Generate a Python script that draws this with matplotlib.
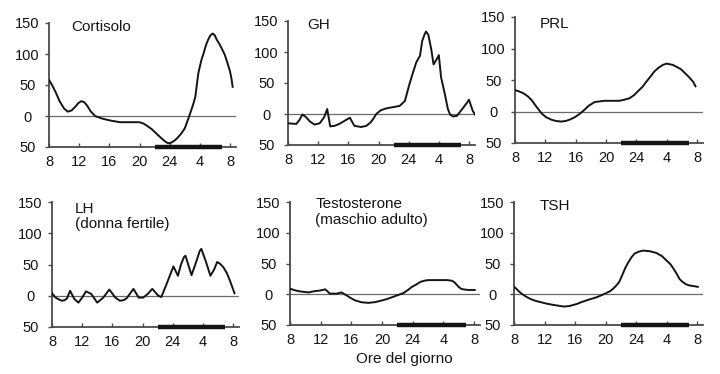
import matplotlib
matplotlib.use('Agg')
import matplotlib.pyplot as plt

plt.rcParams['font.family'] = ['Liberation Sans', 'DejaVu Sans']

# hours run 8..32 (32 = 8 of the following morning)
hour_ticks = [8, 12, 16, 20, 24, 28, 32]
hour_labels = ['8', '12', '16', '20', '24', '4', '8']
level_ticks = [-50, 0, 50, 100, 150]
level_labels = ['50', '0', '50', '100', '150']
sleep = (22, 31)

cort_h = [8, 8.4, 8.9, 9.4, 10, 10.5, 11, 11.5, 11.9, 12.3, 12.7, 13.1, 13.5, 14.1, 15, 16,
          17.4, 20, 20.5, 20.9, 21.6, 22.3, 23, 23.5, 23.8, 24.2, 24.6, 24.9, 25.5, 26,
          26.6, 27.1, 27.4, 27.8, 28.2, 28.5, 28.8, 29.1, 29.4, 29.7, 30, 30.2, 30.6, 30.9,
          31.3, 31.6, 32, 32.2, 32.35]
cort_v = [58, 50, 38, 24, 12, 7, 9, 15, 21, 24, 22, 16, 8, 0, -4, -7,
          -10, -10, -12, -15, -21, -29, -37, -42, -44, -43, -40, -37, -29, -20,
          0, 18, 31, 69, 90, 101, 114, 123, 130, 133, 130, 124, 116, 109,
          99, 88, 72, 60, 47]

gh_h = [8, 9.1, 9.5, 9.9, 10.3, 10.9, 11.5, 12.2, 12.8, 13.2, 13.6, 14.2, 14.8, 15.5, 16.2,
        16.8, 17.7, 18.4, 19, 19.4, 19.7, 20.3, 21, 21.9, 22.8, 23.5, 24.1, 24.6, 25, 25.5,
        25.8, 26.1, 26.3, 26.6, 27, 27.3, 27.7, 28, 28.3, 28.8, 29.2, 29.5, 29.9, 30.4,
        31.1, 31.6, 32, 32.5, 32.9]
gh_v = [-15, -16, -10, -1, -4, -12, -17, -15, -5, 8, -20, -19, -16, -11, -6,
        -19, -21, -19, -13, -6, 0, 6, 9, 11, 13, 21, 48, 68, 83, 94,
        118, 128, 133, 128, 104, 80, 88, 95, 59, 32, 8, -1, -4, -3,
        8, 16, 23, 5, -3]

prl_h = [8, 8.5, 9.1, 9.7, 10.2, 10.8, 11.5, 12.1, 12.8, 13.4, 14.1, 14.7, 15.2, 15.9, 16.5,
         17.1, 17.7, 18.5, 19.8, 21.8, 22.5, 23.1, 23.7, 24.2, 24.8, 25.3, 25.9, 26.4, 27,
         27.5, 28, 28.4, 28.8, 29.3, 29.9, 30.4, 31, 31.5, 31.8]
prl_v = [34, 32, 29, 24, 18, 8, -3, -9, -13, -15, -16, -15, -13, -9, -4,
         2, 9, 15, 17, 17, 19, 21, 26, 32, 39, 47, 56, 64, 70,
         74, 76, 75, 74, 71, 67, 61, 54, 47, 40]

lh_h = [8, 8.4, 8.75, 9.3, 9.7, 10, 10.4, 10.95, 11.5, 12, 12.5, 13.2, 14, 14.8, 15.6,
        16.4, 17, 17.5, 17.9, 18.8, 19.5, 20.1, 20.7, 21.3, 22.1, 22.5, 23.2, 24.1, 24.7,
        25.1, 25.5, 25.7, 26.5, 27, 27.6, 27.8, 28.4, 29, 29.5, 29.9, 30.3, 30.7, 31.2,
        31.6, 32.2]
lh_v = [4, -2, -5, -8, -7, -4, 8, -5, -11, -3, 7, 3, -11, -3, 10,
        -3, -8, -7, -4, 11, -3, -3, 3, 11, 0, -2, 19, 47, 32,
        50, 62, 64, 33, 50, 72, 75, 55, 32, 42, 54, 51, 46, 36,
        24, 4]

test_h = [8, 8.5, 9.1, 10.4, 11.2, 11.9, 12.6, 13.2, 14.1, 14.7, 15.4, 15.9, 16.5, 17.3,
          18.2, 19, 19.7, 20.6, 21.5, 22.8, 23.4, 23.9, 24.5, 25, 25.5, 26, 27.6, 28.5,
          29.1, 29.4, 29.7, 30, 30.3, 30.6, 31.2, 32.1]
test_v = [9, 7, 5, 3, 5, 6, 8, 1, 1, 3, -2, -6, -10, -13,
          -14, -13, -11, -8, -4, 2, 7, 12, 16, 20, 22, 23, 23, 23,
          22, 20, 16, 12, 9, 8, 7, 7]

tsh_h = [8, 8.3, 8.7, 9.1, 9.6, 10.2, 10.9, 12.2, 13, 14, 14.6, 15.3, 16.2, 16.8, 17.5,
         18.8, 19.4, 20.1, 20.6, 21, 21.4, 21.8, 22.3, 22.6, 23, 23.4, 23.8, 24.3, 24.9,
         25.8, 26.7, 27.4, 28, 28.5, 28.9, 29.3, 29.7, 30.1, 30.6, 31.1, 31.7, 32.1]
tsh_v = [12, 9, 4, 0, -4, -8, -11, -15, -17, -19, -20, -19, -16, -13, -10,
         -5, -2, 2, 5, 9, 14, 20, 34, 43, 52, 60, 66, 69, 71,
         70, 67, 62, 55, 49, 42, 34, 25, 20, 16, 14, 13, 12]

# (pixel x of hour 8, pixel x of hour 32, pixel y of 150, pixel y of -50)
panels = [
    ((49, 230, 23, 147), cort_h, cort_v, [('Cortisolo', 10.9, 143)]),
    ((288, 469, 21, 145), gh_h, gh_v, [('GH', 10.5, 143)]),
    ((515, 697, 17, 143), prl_h, prl_v, [('PRL', 11.2, 139)]),
    ((52, 233, 202, 327), lh_h, lh_v, [('LH', 11.05, 139), ('(donna fertile)', 11.05, 115)]),
    ((290, 474, 202, 325), test_h, test_v, [('Testosterone', 11.3, 147), ('(maschio adulto)', 11.3, 120)]),
    ((514, 697, 202, 325), tsh_h, tsh_v, [('TSH', 11.4, 144)]),
]

W, H = 720, 374
fig = plt.figure(figsize=(W / 100, H / 100), dpi=100)
ink = '#141414'
axis_col = '#4a4a4a'
xmax = 32.8

for (xa, xb, ya, yb), hh, vv, labels in panels:
    pxh = (xb - xa) / 24
    ax = fig.add_axes([xa / W, 1 - yb / H, pxh * (xmax - 8) / W, (yb - ya) / H])
    ax.set_xlim(8, xmax)
    ax.set_ylim(-50, 150)
    ax.patch.set_alpha(0)
    for s in ('top', 'right'):
        ax.spines[s].set_visible(False)
    for s in ('left', 'bottom'):
        ax.spines[s].set_linewidth(1.3)
        ax.spines[s].set_color(axis_col)
    ax.axhline(0, color='#6a6a6a', lw=0.9, zorder=1)
    ax.plot(hh, vv, color=ink, lw=1.4, zorder=3, solid_joinstyle='round')
    ax.plot(sleep, [-50, -50], color=ink, lw=3.2, solid_capstyle='butt', clip_on=False, zorder=4)
    ax.set_xticks(hour_ticks)
    ax.set_xticklabels(hour_labels)
    ax.set_yticks(level_ticks)
    ax.set_yticklabels(level_labels, ha='center')
    ax.tick_params(axis='x', direction='in', length=3, width=1, pad=5.5, labelsize=10.5,
                   color=axis_col, labelcolor=ink)
    ax.tick_params(axis='y', direction='out', length=3, width=1, pad=12.5, labelsize=10.5,
                   color=axis_col, labelcolor=ink)
    for txt, x, y in labels:
        ax.text(x, y, txt, fontsize=11, color=ink, va='center', ha='left')

fig.text(404 / W, 1 - 359 / H, 'Ore del giorno', fontsize=11, color=ink, ha='center', va='center')

fig.savefig('out.png', dpi=100)
